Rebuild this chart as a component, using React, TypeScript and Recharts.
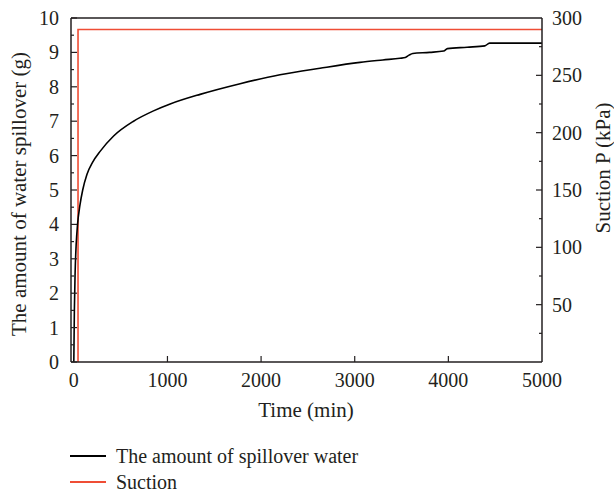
import { LineChart, Line, XAxis, YAxis, ReferenceLine } from 'recharts';

// Zeit in Minuten und ausgetretene Wassermenge in g
const timeMin = [0, 6, 14, 25, 40, 65, 95, 140, 200, 283, 425, 638, 851, 1029, 1349, 1776, 2202, 2629, 3056, 3300, 3483, 3540, 3580, 3620, 3800, 3950, 3990, 4200, 4390, 4440, 5000];
const spillover = [0, 1.5, 2.6, 3.4, 4.0, 4.55, 5.0, 5.45, 5.8, 6.13, 6.57, 7.0, 7.3, 7.5, 7.78, 8.09, 8.35, 8.54, 8.71, 8.78, 8.83, 8.85, 8.92, 8.97, 9.0, 9.04, 9.11, 9.15, 9.19, 9.27, 9.27];

// Saugspannung in kPa
const suctionTime = [45, 45, 5000];
const suctionKPa = [0, 290, 290];

const xTicks = [0, 1000, 2000, 3000, 4000, 5000];
const leftTicks = Array.from({ length: 21 }, (_, i) => i * 0.5);
const rightTicks = [25, 50, 75, 100, 125, 150, 175, 200, 225, 250, 275, 300];

const spillData = timeMin.map((t, i) => ({ t, g: spillover[i] }));
const suctionData = suctionTime.map((t, i) => ({ t, p: suctionKPa[i] }));

const TEXT = '#231f20';
const RED = '#ef4d35';
const FONT = '"Liberation Serif", "Times New Roman", serif';

const LEFT_M = 12;
const RIGHT_M = 10;
const BOTTOM_M = 11;

function LeftTick({ x, y, payload }: any) {
  const v = payload.value;
  const major = Number.isInteger(v);
  const ax = x + LEFT_M;
  return (
    <g>
      <line x1={ax} x2={ax + (major ? 6 : 3)} y1={y} y2={y} stroke={TEXT} strokeWidth={1.2} />
      {major && (
        <text x={x} y={y} dy="0.35em" textAnchor="end" fontSize={20} fill={TEXT} fontFamily={FONT}>
          {v}
        </text>
      )}
    </g>
  );
}

function RightTick({ x, y, payload }: any) {
  const v = payload.value;
  const major = v % 50 === 0;
  const ax = x - RIGHT_M;
  return (
    <g>
      {v !== 300 && <line x1={ax} x2={ax - (major ? 6 : 3)} y1={y} y2={y} stroke={TEXT} strokeWidth={1.2} />}
      {major && (
        <text x={x} y={y} dy="0.35em" textAnchor="start" fontSize={20} fill={TEXT} fontFamily={FONT}>
          {v}
        </text>
      )}
    </g>
  );
}

function BottomTick({ x, y, payload }: any) {
  const ay = y - BOTTOM_M;
  return (
    <g>
      {payload.value !== 0 && payload.value !== 5000 && (
        <line x1={x} x2={x} y1={ay} y2={ay - 6} stroke={TEXT} strokeWidth={1.2} />
      )}
      <text x={x} y={y} dy="0.71em" textAnchor="middle" fontSize={20} fill={TEXT} fontFamily={FONT}>
        {payload.value}
      </text>
    </g>
  );
}

const leftLabel = () => (
  <text x={19} y={194} transform="rotate(-90, 19, 194)" textAnchor="middle" dominantBaseline="central" fontSize={21} fill={TEXT} fontFamily={FONT}>
    The amount of water spillover (g)
  </text>
);

const rightLabel = () => (
  <text x={603} y={168} transform="rotate(-90, 603, 168)" textAnchor="middle" dominantBaseline="central" fontSize={21} fill={TEXT} fontFamily={FONT}>
    Suction P (kPa)
  </text>
);

const bottomLabel = () => (
  <text x={306} y={417} textAnchor="middle" fontSize={21} fill={TEXT} fontFamily={FONT}>
    Time (min)
  </text>
);

const legendItems = [
  { name: 'The amount of spillover water', color: '#000000', top: 456 },
  { name: 'Suction', color: RED, top: 482 },
];

export default function App() {
  return (
    <div style={{ position: 'absolute', left: 0, top: 0, width: 614, height: 495, background: '#fff' }}>
      <LineChart width={614} height={495} margin={{ top: 18, right: 0, left: 0, bottom: 0 }}>
        <XAxis
          dataKey="t"
          type="number"
          domain={[-30, 5000]}
          ticks={xTicks}
          interval={0}
          allowDuplicatedCategory={false}
          height={133}
          tickSize={0}
          tickMargin={BOTTOM_M}
          tickLine={false}
          axisLine={{ stroke: TEXT, strokeWidth: 1.5 }}
          tick={<BottomTick />}
          label={bottomLabel}
        />
        <YAxis
          yAxisId="left"
          orientation="left"
          type="number"
          domain={[0, 10]}
          ticks={leftTicks}
          interval={0}
          width={71}
          tickSize={0}
          tickMargin={LEFT_M}
          tickLine={false}
          axisLine={{ stroke: TEXT, strokeWidth: 1.5 }}
          tick={<LeftTick />}
          label={leftLabel}
        />
        <YAxis
          yAxisId="right"
          orientation="right"
          type="number"
          domain={[0, 300]}
          ticks={rightTicks}
          interval={0}
          width={72}
          tickSize={0}
          tickMargin={RIGHT_M}
          tickLine={false}
          axisLine={{ stroke: TEXT, strokeWidth: 1.5 }}
          tick={<RightTick />}
          label={rightLabel}
        />
        <ReferenceLine yAxisId="left" y={10} stroke={TEXT} strokeWidth={1.5} />
        <Line
          yAxisId="right"
          data={suctionData}
          dataKey="p"
          type="linear"
          stroke={RED}
          strokeWidth={1.6}
          dot={false}
          isAnimationActive={false}
        />
        <Line
          yAxisId="left"
          data={spillData}
          dataKey="g"
          type="monotone"
          stroke="#000000"
          strokeWidth={1.6}
          dot={false}
          isAnimationActive={false}
        />
      </LineChart>
      {legendItems.map((item) => (
        <div key={item.name} style={{ position: 'absolute', left: 70, top: item.top - 10, height: 20, display: 'flex', alignItems: 'center' }}>
          <div style={{ width: 36, height: 2, background: item.color }} />
          <span style={{ marginLeft: 10, fontSize: 20, lineHeight: '20px', color: TEXT, fontFamily: FONT, whiteSpace: 'nowrap' }}>{item.name}</span>
        </div>
      ))}
    </div>
  );
}
